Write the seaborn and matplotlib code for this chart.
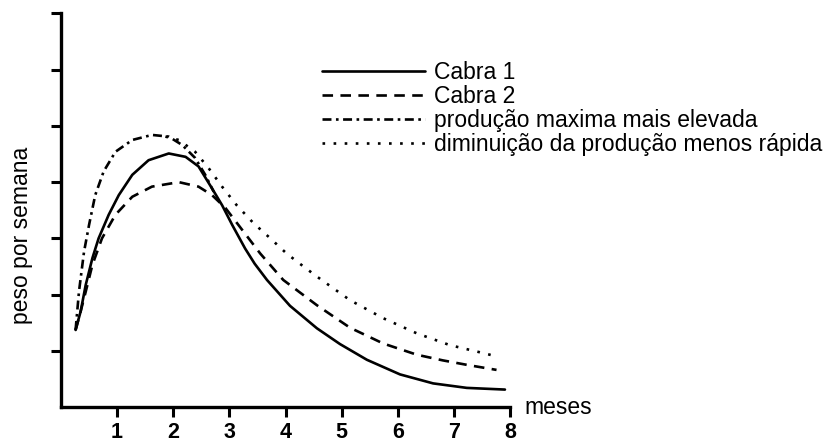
import matplotlib
matplotlib.use("Agg")
import matplotlib.pyplot as plt
import seaborn as sns
import pandas as pd

# ---- data ----
cabra1_x = [0.26, 0.35, 0.44, 0.56, 0.67, 0.85, 1.03, 1.27, 1.56, 1.92, 2.22, 2.45,
            2.69, 2.87, 3.05, 3.28, 3.45, 3.67, 4.08, 4.56, 4.97, 5.45, 6.04, 6.63,
            7.23, 7.91]
cabra1_y = [1.37, 1.70, 2.17, 2.65, 3.00, 3.42, 3.77, 4.13, 4.39, 4.51, 4.45, 4.28,
            3.89, 3.59, 3.24, 2.82, 2.55, 2.26, 1.80, 1.40, 1.12, 0.84, 0.58, 0.42,
            0.34, 0.31]

cabra2_x = [0.26, 0.35, 0.44, 0.56, 0.73, 0.97, 1.27, 1.62, 2.10, 2.45, 2.69, 2.93,
            3.16, 3.55, 3.96, 4.56, 5.15, 5.74, 6.34, 6.80, 7.23, 7.76]
cabra2_y = [1.37, 1.70, 2.05, 2.53, 3.00, 3.42, 3.74, 3.92, 4.00, 3.92, 3.77, 3.54,
            3.24, 2.73, 2.26, 1.81, 1.41, 1.13, 0.93, 0.83, 0.75, 0.66]

maxima_x = [0.26, 0.32, 0.41, 0.50, 0.61, 0.76, 0.97, 1.27, 1.62, 1.92, 2.16, 2.39,
            2.57, 2.72]
maxima_y = [1.37, 2.05, 2.76, 3.24, 3.77, 4.19, 4.54, 4.75, 4.84, 4.81, 4.66, 4.43,
            4.13, 3.83]

lenta_x = [1.86, 2.10, 2.39, 2.63, 2.87, 3.13, 3.43, 3.73, 4.02, 4.32, 4.56, 5.15,
           5.74, 6.34, 6.93, 7.52, 7.76]
lenta_y = [4.81, 4.75, 4.54, 4.25, 3.92, 3.59, 3.27, 3.00, 2.73, 2.50, 2.32, 1.90,
           1.58, 1.31, 1.10, 0.96, 0.90]

labels = ["Cabra 1", "Cabra 2", "produção maxima mais elevada",
          "diminuição da produção menos rápida"]
x_ticks = [1, 2, 3, 4, 5, 6, 7, 8]
y_ticks = [1, 2, 3, 4, 5, 6, 7]

# ---- style ----
sns.set_style("ticks")
plt.rcParams["font.family"] = ["Liberation Sans", "DejaVu Sans"]
plt.rcParams["text.color"] = "black"
plt.rcParams["axes.labelcolor"] = "black"
plt.rcParams["xtick.color"] = "black"
plt.rcParams["ytick.color"] = "black"

fig = plt.figure(figsize=(8.34, 4.44), dpi=100)
ax = fig.add_axes([61 / 834, 37 / 444, 449 / 834, 393.5 / 444])

lw = 1.9
series = [
    (cabra1_x, cabra1_y, "-", labels[0]),
    (cabra2_x, cabra2_y, (0, (4.0, 2.8)), labels[1]),
    (maxima_x, maxima_y, (0, (3.4, 1.7, 1.0, 1.7)), labels[2]),
    (lenta_x, lenta_y, (0, (1.0, 3.2)), labels[3]),
]
for xs, ys, ls, lab in series:
    df = pd.DataFrame({"x": xs, "y": ys})
    sns.lineplot(data=df, x="x", y="y", ax=ax, color="black", linestyle=ls,
                 linewidth=lw, label=lab, estimator=None, sort=False)

ax.set_xlim(0, 8)
ax.set_ylim(0, 7)
ax.set_xticks(x_ticks)
ax.set_xticklabels([str(t) for t in x_ticks], fontsize=15.5, fontweight="bold",
                   color="black")
ax.set_yticks(y_ticks)
ax.set_yticklabels([])
ax.tick_params(axis="both", direction="out", length=7, width=2.2, color="black")
ax.tick_params(axis="x", pad=4)
for side in ["top", "right"]:
    ax.spines[side].set_visible(False)
for side in ["left", "bottom"]:
    ax.spines[side].set_linewidth(2.4)
    ax.spines[side].set_color("black")

ax.set_xlabel("")
ax.set_ylabel("peso por semana", fontsize=16.5, color="black")
ax.yaxis.set_label_coords(-0.062, 0.435)
ax.text(1.033, 0.0, "meses", transform=ax.transAxes, fontsize=16.5,
        va="center", ha="left", color="black")

leg = ax.legend(loc="upper left", bbox_to_anchor=(322 / 834, 1 - 61 / 444),
                bbox_transform=fig.transFigure, frameon=False, fontsize=16.5,
                handlelength=4.5, handletextpad=0.4, labelspacing=0.05,
                borderpad=0, borderaxespad=0, labelcolor="black")

fig.savefig("out.png", dpi=100, facecolor="white")
